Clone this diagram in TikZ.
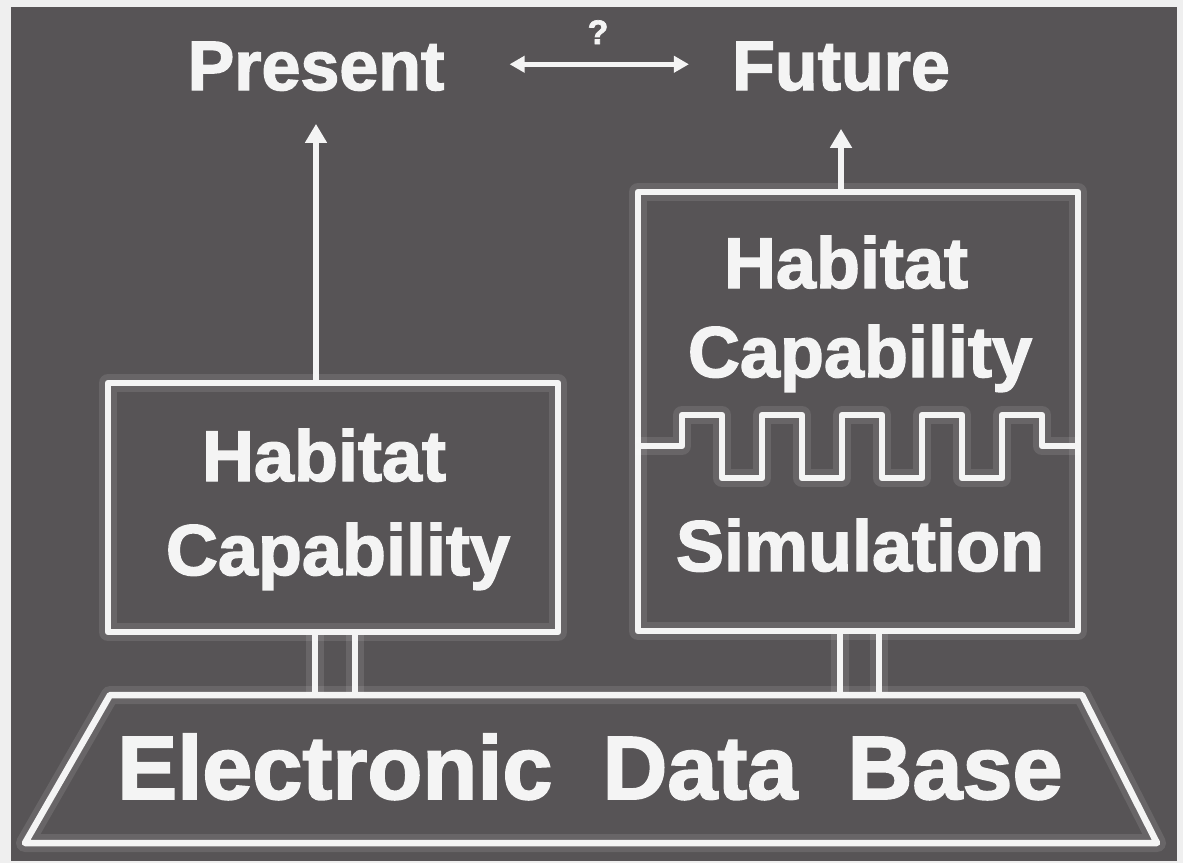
\documentclass[tikz,border=0pt]{standalone}
\usepackage{fontspec}
\setmainfont{Liberation Sans}[BoldFeatures={FakeBold=2}]
\newfontfamily\spacedsans{Liberation Sans}[WordSpace=2, BoldFeatures={FakeBold=2}]
\usetikzlibrary{arrows.meta}
\definecolor{board}{HTML}{575456}
\definecolor{paper}{HTML}{EFEFEF}
\definecolor{chalk}{HTML}{F4F4F4}
\tikzset{
  stroke/.style={draw=chalk, line width=6.5pt, line join=round, line cap=round},
  halo/.style={preaction={draw=white, draw opacity=0.10, line width=18pt, line join=round}},
  frame/.style={stroke, halo, rectangle, inner sep=0pt},
  uparrow/.style={draw=chalk, line width=6.5pt, -{Triangle[width=21pt,length=19pt]}},
  twoway/.style={draw=chalk, line width=5.5pt, {Triangle[width=16pt,length=15pt]}-{Triangle[width=16pt,length=15pt]}},
  headtext/.style={text=chalk, font=\bfseries\fontsize{70}{84}\selectfont, inner sep=0pt, anchor=base},
  boxtext/.style={headtext, font=\bfseries\fontsize{72}{86}\selectfont},
  basetext/.style={headtext, font=\spacedsans\bfseries\fontsize{90}{100}\selectfont},
  asktext/.style={headtext, font=\bfseries\fontsize{34}{40}\selectfont},
}
\begin{document}
\begin{tikzpicture}[x=1pt,y=-1pt]
  % board and paper margin
  \fill[paper] (0,0) rectangle (1183,863);
  \fill[board] (11,7) rectangle (1177,861);
  \useasboundingbox (0,0) rectangle (1183,863);

  % headings
  \node[headtext] (present) at (316,90) {Present};
  \node[headtext] (future) at (841,90) {Future};
  \node[asktext] (ask) at (598,44) {?};
  \draw[twoway] ([xshift=65pt,yshift=2pt]present.east) -- ([xshift=-43pt,yshift=2pt]future.west);

  % present-state box
  \node[frame, minimum width=450pt, minimum height=249pt] (lbox) at (333,507.5) {};
  \node[boxtext] (lhab) at (324,481) {Habitat};
  \node[boxtext] (lcap) at (338,575) {Capability};

  % simulation box
  \node[frame, minimum width=440pt, minimum height=439pt] (rbox) at (858,411.5) {};
  \node[boxtext] (rhab) at (846,288) {Habitat};
  \node[boxtext] (rcap) at (860,377) {Capability};
  \node[boxtext] (rsim) at (860,571) {Simulation};
  % square-wave divider
  \draw[stroke, halo, line cap=butt] (rbox.west |- 0,446) -- (682,446) -- (682,415) -- (722,415) -- (722,478)
    -- (762,478) -- (762,415) -- (802,415) -- (802,478) -- (842,478) -- (842,415)
    -- (882,415) -- (882,478) -- (922,478) -- (922,415) -- (962,415) -- (962,478)
    -- (1002,478) -- (1002,415) -- (1042,415) -- (1042,446) -- (rbox.east |- 0,446);

  % data base platform
  \draw[stroke, halo] (110,695) -- (1082,695) -- (1157,843) -- (25,843) -- cycle;
  \node[basetext] (db) at (590,799) {Electronic Data Base};
  \coordinate (dbl1) at (315,695);
  \coordinate (dbl2) at (355,695);
  \coordinate (dbr1) at (840,695);
  \coordinate (dbr2) at (879,695);

  % links between boxes and data base
  \draw[stroke, halo, line cap=butt] (lbox.south -| dbl1) -- (dbl1);
  \draw[stroke, halo, line cap=butt] (lbox.south -| dbl2) -- (dbl2);
  \draw[stroke, halo, line cap=butt] (rbox.south -| dbr1) -- (dbr1);
  \draw[stroke, halo, line cap=butt] (rbox.south -| dbr2) -- (dbr2);

  % outputs
  \draw[uparrow] (lbox.north -| present) -- ([yshift=-33pt]present.south);
  \draw[uparrow] (rbox.north -| future) -- ([yshift=-38pt]future.south);
\end{tikzpicture}
\end{document}
